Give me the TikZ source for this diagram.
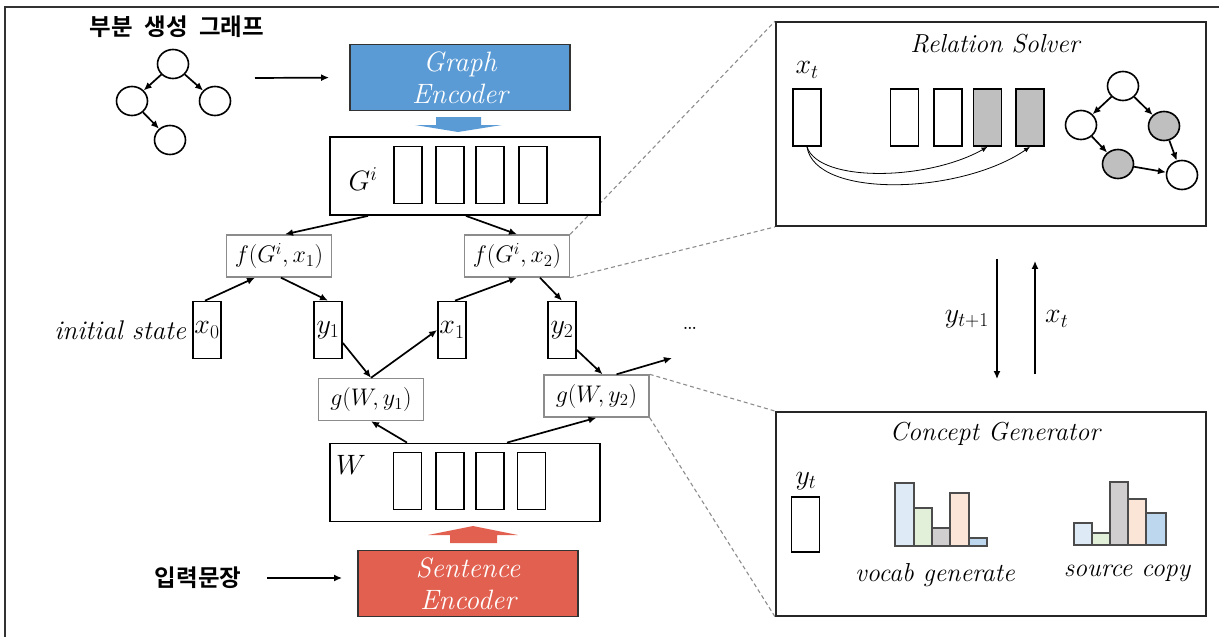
\RequirePackage{fix-cm}
\documentclass[tikz,border=0pt]{standalone}
\usepackage{fontspec}
\usepackage{amsmath}
\usepackage{tikz}
\usetikzlibrary{positioning,shapes.geometric,calc,backgrounds}
\usetikzlibrary{arrows.meta}
\newfontfamily\hangul{Noto Sans CJK KR}[BoldFont={Noto Sans CJK KR Bold}]
\definecolor{genblue}{RGB}{91,155,213}
\definecolor{genred}{RGB}{225,96,80}
\definecolor{cellgray}{RGB}{191,191,191}
\definecolor{barblue}{RGB}{222,235,247}
\definecolor{bargreen}{RGB}{226,240,217}
\definecolor{bargray}{RGB}{208,206,206}
\definecolor{barpeach}{RGB}{251,229,214}
\definecolor{bardeep}{RGB}{189,215,238}

\begin{document}
\begin{tikzpicture}[x=1pt,y=-1pt,line width=1.7pt,>={Latex[length=8pt,width=7pt]},
	font=\fontsize{26}{30}\selectfont,
	caption/.style={font=\itshape\fontsize{26}{30}\selectfont},
	flabel/.style={font=\fontsize{24}{30}\selectfont},
	varlabel/.style={font=\fontsize{28}{32}\selectfont},
	cell/.style={rectangle,draw,line width=1.7pt,minimum width=28pt,minimum height=57pt,inner sep=0pt},
	holder/.style={rectangle,draw,fill=white,line width=1.8pt,minimum width=270pt,minimum height=78pt},
	fnode/.style={rectangle,draw=black!45,fill=white,line width=1.4pt,minimum width=105pt,minimum height=42pt,inner sep=0pt,flabel},
	encoder/.style={rectangle,draw=black!80,line width=1.8pt,minimum width=220pt,minimum height=66pt,text=white,align=center,font=\itshape\fontsize{28}{32}\selectfont},
	panel/.style={rectangle,draw=black!85,fill=white,line width=1.8pt,minimum width=430pt,minimum height=204pt},
	vertex/.style={ellipse,draw,fill=white,line width=1.6pt,minimum width=31pt,minimum height=29pt,inner sep=0pt},
	zoomline/.style={draw=black!45,line width=1.1pt,dash pattern=on 4pt off 3pt},
	bar/.style={draw=black!70,line width=1.3pt}]
	\useasboundingbox (0,0) rectangle (1219,637);
	\draw[line width=1.4pt,black!80] (5,660) -- (5,7) -- (1240,7);

	% partial graph input
	\node[font=\hangul\bfseries\fontsize{23.5}{28}\selectfont] (ptitle) at (177,27) {부분\hspace{6pt} 생성\hspace{6pt} 그래프};
	\node[vertex] (n1) at (173,64) {};
	\node[vertex] (n2) at (132,101) {};
	\node[vertex] (n3) at (215,101) {};
	\node[vertex] (n4) at (170,140) {};
	\draw[->] (n1) -- (n2);
	\draw[->] (n1) -- (n3);
	\draw[->] (n2) -- (n4);

	% encoders
	\node[encoder,fill=genblue] (genc) at (460,77.5) {Graph\\Encoder};
	\coordinate (gin) at (255,78);
	\draw[->] (gin) -- (genc.west) [shorten >=20pt];
	\fill[genblue] (436,117) -- (481,117) -- (481,125) -- (502,125) -- (458,132) -- (415,125) -- (436,125) -- cycle;

	\node[encoder,fill=genred] (senc) at (468,583.5) {Sentence\\Encoder};
	\node[font=\hangul\bfseries\fontsize{23.5}{28}\selectfont] (sin) at (198,578) {입력문장};
	\draw[->] (sin) -- (senc.west |- sin) [shorten <=22pt,shorten >=15pt];
	\fill[genred] (428,535) -- (473,526) -- (518,535) -- (497,535) -- (497,543) -- (450,543) -- (450,535) -- cycle;

	% graph memory
	\node[holder] (gbox) at (465,176) {};
	\node[varlabel] (glab) at (363,179) {$G^i$};
	\node[cell] (gc1) at (408,175) {};
	\node[cell] (gc2) at (450,175) {};
	\node[cell] (gc3) at (490,175) {};
	\node[cell] (gc4) at (533,175) {};

	% sentence memory
	\node[holder] (wbox) at (465,482.5) {};
	\node[varlabel] (wlab) at (351,465) {$W$};
	\node[cell] (wc1) at (407.5,481) {};
	\node[cell] (wc2) at (450,481) {};
	\node[cell] (wc3) at (490,481) {};
	\node[cell] (wc4) at (531.5,481) {};

	% decoding steps
	\node[fnode] (f1) at (279,256) {$f(G^i,x_1)$};
	\node[fnode] (f2) at (517,256) {$f(G^i,x_2)$};
	\node[fnode] (g1) at (371,399.5) {$g(W,y_1)$};
	\node[fnode] (g2) at (596.5,396) {$g(W,y_2)$};

	\node[cell,varlabel] (x0) at (207,330) {$x_0$};
	\node[cell,varlabel] (y1) at (328,330) {$y_1$};
	\node[cell,varlabel] (x1) at (452,330) {$x_1$};
	\node[cell,varlabel] (y2) at (562,330) {$y_2$};
	\node[left=2pt of x0,caption,font=\itshape\fontsize{27}{30}\selectfont] (init) {initial state};
	\node (dots) at (690,328) {\dots};
	\coordinate (nxt) at (672,358);

	\draw[->] ([xshift=-97pt]gbox.south) -- ([xshift=6pt]f1.north);
	\draw[->] ([xshift=1pt]gbox.south) -- (f2.north);
	\draw[->] ([xshift=-2pt]x0.north) -- ([xshift=-24pt]f1.south);
	\draw[->] ([xshift=2pt]f1.south) -- (y1.north);
	\draw[->] ([xshift=3pt]x1.north) -- (f2.south);
	\draw[->] ([xshift=23pt]f2.south) -- (y2.north);
	\draw[->] ([yshift=-13pt]y1.east) -- (g1.north);
	\draw[->] (g1.north) -- (x1.west);
	\draw[->] ([yshift=-20pt]y2.east) -- ([xshift=6pt]g2.north);
	\draw[->] ([xshift=20pt]g2.north) -- (nxt);
	\draw[->] ([xshift=-58pt]wbox.north) -- (g1.south);
	\draw[->] ([xshift=42pt]wbox.north) -- (g2.south);

	% relation solver
	\node[panel] (rs) at (991,124) {};
	\node[caption] (rstitle) at (995,44) {Relation Solver};
	\node[varlabel] (xtlab) at (807,70) {$x_t$};
	\node[cell] (xt) at (807,117.5) {};
	\node[cell] (r1) at (904.5,117.5) {};
	\node[cell] (r2) at (948,117.5) {};
	\node[cell,fill=cellgray] (r3) at (987.5,117.5) {};
	\node[cell,fill=cellgray] (r4) at (1030,117.5) {};
	\draw[->,line width=0.8pt,>={Latex[length=6pt,width=5pt]}] (xt.south) .. controls +(12,36) and +(-60,34) .. (r3.south);
	\draw[->,line width=0.8pt,>={Latex[length=6pt,width=5pt]}] (xt.south) .. controls +(8,52) and +(-70,48) .. (r4.south);

	\node[vertex] (m1) at (1123,86) {};
	\node[vertex] (m2) at (1081,125) {};
	\node[vertex,fill=cellgray] (m3) at (1164,126) {};
	\node[vertex,fill=cellgray] (m4) at (1118,164) {};
	\node[vertex] (m5) at (1182,175) {};
	\draw[->] (m1) -- (m2);
	\draw[->] (m1) -- (m3);
	\draw[->] (m2) -- (m4);
	\draw[->] (m4) -- (m5);
	\draw[->] (m3) -- (m5);

	% concept generator
	\node[panel] (cg) at (991,514) {};
	\node[caption] (cgtitle) at (995,434) {Concept Generator};
	\node[varlabel] (ytlab) at (806,481) {$y_t$};
	\node[cell,minimum height=55pt] (yt) at (805.5,524.5) {};

	\filldraw[bar,fill=barblue] (895,546) rectangle (914,483);
	\filldraw[bar,fill=bargreen] (914,546) rectangle (932,508);
	\filldraw[bar,fill=bargray] (932,546) rectangle (950,528);
	\filldraw[bar,fill=barpeach] (950,546) rectangle (969,493);
	\filldraw[bar,fill=bardeep] (969,546) rectangle (987,538);
	\node[caption] (vocab) at (935,575) {vocab generate};

	\filldraw[bar,fill=barblue] (1074,545) rectangle (1092,523);
	\filldraw[bar,fill=bargreen] (1092,545) rectangle (1110,533);
	\filldraw[bar,fill=bargray] (1110,545) rectangle (1128,482);
	\filldraw[bar,fill=barpeach] (1128,545) rectangle (1146,499);
	\filldraw[bar,fill=bardeep] (1146,545) rectangle (1166,513);
	\node[caption] (source) at (1127,573) {source copy};

	% exchange between the two modules
	\draw[->] ([xshift=6pt]rs.south) -- ([xshift=6pt]cg.north) [shorten <=32pt,shorten >=32pt] node[midway,left=4pt,varlabel] {$y_{t+1}$};
	\draw[->] ([xshift=44pt]cg.north) -- ([xshift=44pt]rs.south) [shorten <=37pt,shorten >=34pt] node[midway,right=6pt,varlabel] {$x_t$};

	% zoom guides
	\begin{scope}[on background layer]
		\draw[zoomline] (f2.north east) -- (rs.north west);
		\draw[zoomline] (f2.south east) -- (rs.south west);
		\draw[zoomline] (g2.north east) -- (cg.north west);
		\draw[zoomline] (g2.south east) -- (cg.south west);
	\end{scope}
\end{tikzpicture}
\end{document}
